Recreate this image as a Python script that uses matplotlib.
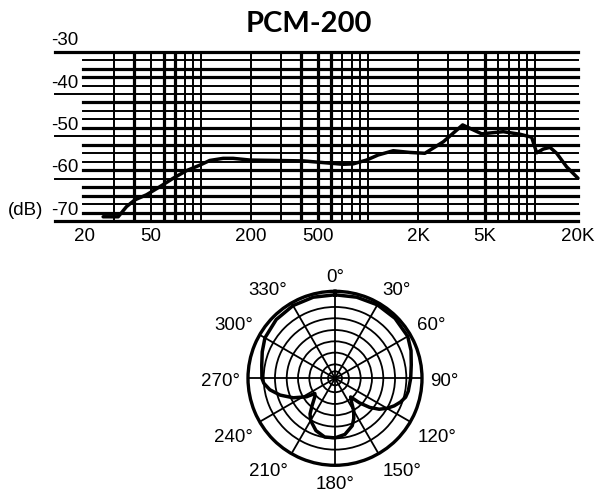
import numpy as np
import matplotlib
matplotlib.use("Agg")
from matplotlib import pyplot as plt
from matplotlib import transforms

plt.rcParams['font.family'] = ['Liberation Sans', 'DejaVu Sans']

title = "PCM-200"

# frequency response (Hz, dB)
freq = [26, 32, 35.9, 40.3, 47.3, 56.8, 68.3, 82.1, 98.6, 113, 136, 156, 197, 284,
        410, 540, 711, 817, 982, 1152, 1418, 1784, 2194, 2824, 3691, 4796, 6460,
        8133, 9555, 10240, 11210, 12300, 13490, 15480, 18100]
level = [-71.0, -71.0, -68.6, -67.0, -65.8, -63.9, -61.9, -60.1, -58.8, -57.7, -57.2,
         -57.2, -57.6, -57.7, -57.8, -58.2, -58.6, -58.5, -57.6, -56.4, -55.4, -55.8,
         -56.0, -53.3, -49.3, -51.4, -50.9, -51.5, -52.2, -55.9, -55.0, -54.6, -56.0,
         -59.2, -61.9]

# grid of the response chart
db_lines = [-32, -34, -36, -38, -40, -42, -44, -46, -48, -50, -52, -54, -56, -58,
            -60, -62, -64, -66, -68, -70, -72]
db_long = [-32, -42, -52, -62, -72]
db_thick = [-32, -36, -38, -44, -50, -54, -60, -64, -66, -70, -72]
freq_lines = [30, 40, 50, 60, 70, 80, 90, 100, 200, 300, 400, 500, 600, 700, 800,
              900, 1000, 2000, 3000, 4000, 5000, 6000, 7000, 8000, 9000, 10000]
freq_thick = [40, 60, 70, 400, 500, 600, 5000]
db_ticks = [-30, -40, -50, -60, -70]
f_min, f_max = 19.7, 18100
freq_ticks = [20, 50, 200, 500, 2000, 5000, f_max]
freq_labels = ['20', '50', '200', '500', '2K', '5K', '20K']

# polar pattern (degrees, relative radius)
pattern_deg = [0, 15, 30, 45, 60, 70, 80, 90, 100, 105, 110, 115, 120, 125, 130, 135,
               140, 145, 150, 155, 160, 170, 180, 190, 200, 210, 215, 220, 228, 233,
               237, 245, 253, 260, 266, 270, 280, 290, 300, 315, 330, 345, 360]
pattern_r = [0.96, 0.965, 0.975, 0.975, 0.965, 0.93, 0.89, 0.87, 0.855, 0.84, 0.80,
             0.75, 0.69, 0.62, 0.52, 0.40, 0.28, 0.33, 0.43, 0.51, 0.58, 0.655, 0.685,
             0.685, 0.64, 0.56, 0.50, 0.41, 0.31, 0.29, 0.39, 0.53, 0.66, 0.76, 0.82,
             0.84, 0.855, 0.89, 0.93, 0.955, 0.965, 0.965, 0.96]
rings = [0.08, 0.16, 0.295, 0.425, 0.555, 0.69, 0.82]
spokes = [0, 30, 60, 90, 120, 150, 180, 210, 240, 270, 300, 330]

W, H = 607, 496
fig = plt.figure(figsize=(W / 100, H / 100), dpi=100)
fig.patch.set_facecolor('white')

fig.text(309 / W, 1 - 24 / H, title, fontsize=21, fontweight='bold',
         family=['Lato', 'DejaVu Sans'], ha='center', va='center')

# ---- frequency response ----
ax = fig.add_axes([83 / W, 1 - 221 / H, 495 / W, 169.3 / H])
ax.set_xscale('log')
ax.set_xlim(f_min, f_max)
ax.set_ylim(-72, -32)
for s in ax.spines.values():
    s.set_visible(False)

for v in db_lines:
    lw = 2.3 if v in db_thick else 1.4
    xmin = -28 / 495 if v in db_long else 0
    ax.axhline(v, xmin=xmin, xmax=1, color='black', lw=lw, clip_on=False)
for f in freq_lines:
    lw = 2.3 if f in freq_thick else 1.4
    ax.axvline(f, color='black', lw=lw)

ax.plot(freq, level, color='black', lw=2.5, solid_joinstyle='round',
        solid_capstyle='round', clip_on=False, zorder=5)

ax.set_xticks(freq_ticks)
ax.set_xticklabels(freq_labels)
ax.xaxis.set_minor_locator(matplotlib.ticker.NullLocator())
ax.set_yticks([])
ax.tick_params(axis='x', length=0, pad=5, labelsize=13.5)

ytrans = transforms.offset_copy(
    transforms.blended_transform_factory(ax.transAxes, ax.transData),
    fig=fig, x=0, y=2.5, units='dots')
for v in db_ticks:
    ax.text(-0.01, v, str(v), transform=ytrans, ha='right', va='center',
            fontsize=13.5)
ax.text(-0.081, -70, '(dB)', transform=ytrans, ha='right', va='center',
        fontsize=13.5)

# ---- polar pattern ----
R = 87
ax2 = fig.add_axes([(335 - R) / W, 1 - (378.3 + R) / H, 2 * R / W, 2 * R / H],
                   projection='polar')
ax2.set_theta_zero_location('N')
ax2.set_theta_direction(-1)
ax2.set_ylim(0, 1)
ax2.set_yticks(rings)
ax2.set_yticklabels([])
ax2.set_xticks(np.deg2rad(spokes))
ax2.set_xticklabels([])
ax2.tick_params(length=0)
ax2.grid(True, color='black', lw=1.3)
ax2.spines['polar'].set_linewidth(2.4)
ax2.plot(np.deg2rad(pattern_deg), pattern_r, color='black', lw=2.5, zorder=5)

ltrans = transforms.offset_copy(ax2.transData, fig=fig, x=0, y=-3, units='dots')
for a in spokes:
    sa, ca = np.sin(np.deg2rad(a)), np.cos(np.deg2rad(a))
    ha = 'left' if sa > 0.1 else ('right' if sa < -0.1 else 'center')
    va = 'bottom' if ca > 0.1 else ('top' if ca < -0.1 else 'center')
    ax2.text(np.deg2rad(a), 1.09, f"{a}°", ha=ha, va=va, fontsize=13.5,
             transform=ltrans, clip_on=False)

fig.savefig('out.png', dpi=100, facecolor='white')
